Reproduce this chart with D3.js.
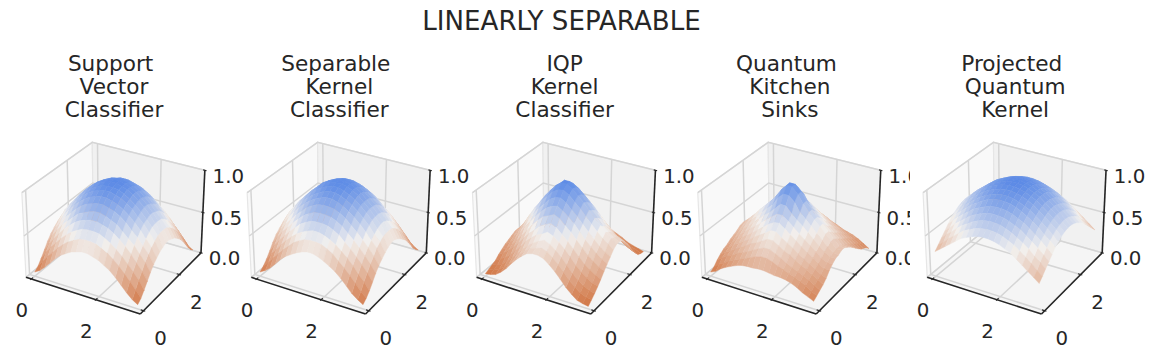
<!DOCTYPE html>
<html>
<head>
<meta charset="utf-8">
<script src="https://d3js.org/d3.v7.min.js"></script>
<style>
    html, body { margin: 0; padding: 0; background: #fff; }
    svg { display: block; }
    text { font-family: "DejaVu Sans", sans-serif; fill: #262626; white-space: pre; }
</style>
</head>
<body>
<script>
var w = 1156,
    h = 358,
    panelStep = 225.3;

var figureTitle = "LINEARLY SEPARABLE";

var panelTitles = [
    ["Support ", "Vector", "Classifier"],
    ["Separable ", "Kernel", "Classifier"],
    ["IQP", "Kernel", "Classifier"],
    ["Quantum ", "Kitchen", "Sinks"],
    ["Projected ", "Quantum", "Kernel"]
];

var xTicks = [0, 2],
    yTicks = [0, 2],
    zTicks = [0, 0.5, 1];

var xLim = [-0.17, 3.31],
    yLim = [-0.17, 3.31],
    zLim = [0, 1];

var samples = [0, 0.17, 0.33, 0.5, 0.66, 0.83, 0.99, 1.16, 1.32, 1.49, 1.65, 1.82, 1.98, 2.15, 2.31, 2.48, 2.65, 2.81, 2.98, 3.14];

// heights in percent. three surfaces are symmetric, so one quarter is stored
var svcQuarter = [
    [5, 9, 15, 22, 29, 35, 39, 43, 45, 47],
    [9, 17, 25, 32, 39, 45, 50, 54, 57, 58],
    [15, 25, 33, 40, 47, 53, 58, 62, 65, 66],
    [22, 32, 40, 48, 55, 61, 66, 70, 72, 74],
    [29, 39, 47, 55, 61, 67, 73, 76, 79, 81],
    [35, 45, 53, 61, 67, 74, 79, 83, 85, 87],
    [39, 50, 58, 66, 73, 79, 84, 88, 90, 92],
    [43, 54, 62, 70, 76, 83, 88, 92, 94, 96],
    [45, 57, 65, 72, 79, 85, 90, 94, 97, 98],
    [47, 58, 66, 74, 81, 87, 92, 96, 98, 100]
];

var separableQuarter = [
    [5, 9, 14, 21, 28, 34, 38, 42, 45, 47],
    [9, 15, 23, 30, 37, 43, 49, 53, 56, 57],
    [14, 23, 30, 38, 45, 51, 56, 60, 63, 65],
    [21, 30, 38, 45, 52, 58, 64, 68, 71, 72],
    [28, 37, 45, 52, 59, 65, 71, 75, 78, 79],
    [34, 43, 51, 58, 65, 71, 77, 81, 84, 85],
    [38, 49, 56, 64, 71, 77, 82, 86, 89, 91],
    [42, 53, 60, 68, 75, 81, 86, 90, 93, 95],
    [45, 56, 63, 71, 78, 84, 89, 93, 96, 98],
    [47, 57, 65, 72, 79, 85, 91, 95, 98, 99]
];

var projectedQuarter = [
    [30, 35, 40, 45, 50, 55, 58, 61, 63, 64],
    [35, 40, 46, 51, 56, 61, 64, 67, 69, 70],
    [40, 46, 51, 57, 62, 66, 70, 73, 75, 76],
    [45, 51, 57, 62, 67, 72, 75, 78, 80, 81],
    [50, 56, 62, 67, 72, 77, 80, 83, 85, 86],
    [55, 61, 66, 72, 77, 81, 85, 88, 90, 91],
    [58, 64, 70, 75, 80, 85, 88, 91, 93, 94],
    [61, 67, 73, 78, 83, 88, 91, 94, 96, 97],
    [63, 69, 75, 80, 85, 90, 93, 96, 98, 99],
    [64, 70, 76, 81, 86, 91, 94, 97, 99, 100]
];

// these two differ from edge to edge, all rows are kept
var iqpKernel = [
    [3, 4, 6, 11, 17, 25, 32, 38, 43, 45, 45, 43, 38, 32, 25, 17, 11, 6, 4, 3],
    [5, 7, 9, 14, 20, 28, 35, 41, 46, 48, 50, 48, 43, 37, 30, 22, 16, 11, 8, 7],
    [7, 9, 12, 18, 24, 31, 38, 44, 49, 53, 56, 53, 48, 42, 35, 27, 21, 16, 13, 11],
    [9, 13, 17, 22, 29, 36, 44, 50, 55, 58, 62, 59, 54, 48, 41, 33, 27, 22, 18, 16],
    [13, 17, 22, 28, 35, 43, 50, 56, 62, 66, 69, 66, 60, 54, 47, 40, 33, 28, 24, 21],
    [16, 20, 26, 33, 41, 49, 57, 64, 70, 73, 76, 73, 67, 61, 54, 47, 40, 35, 30, 27],
    [19, 24, 30, 39, 48, 56, 64, 71, 77, 81, 83, 79, 74, 68, 61, 53, 47, 41, 36, 32],
    [21, 27, 34, 44, 53, 62, 70, 77, 84, 88, 89, 85, 79, 73, 66, 59, 52, 46, 41, 37],
    [23, 30, 38, 48, 58, 67, 76, 83, 90, 94, 95, 91, 85, 79, 72, 65, 58, 52, 47, 42],
    [25, 32, 40, 51, 61, 70, 79, 87, 94, 99, 99, 95, 89, 83, 76, 69, 62, 56, 50, 45],
    [25, 30, 37, 47, 58, 67, 77, 86, 93, 99, 99, 94, 88, 81, 73, 66, 58, 53, 48, 45],
    [23, 28, 34, 44, 54, 64, 73, 82, 88, 93, 94, 90, 84, 77, 70, 62, 55, 49, 46, 43],
    [21, 25, 31, 40, 50, 59, 68, 76, 82, 87, 87, 83, 77, 71, 64, 56, 50, 44, 41, 38],
    [19, 22, 27, 35, 44, 52, 60, 68, 74, 78, 79, 76, 70, 64, 57, 50, 44, 38, 35, 32],
    [16, 18, 23, 29, 37, 44, 52, 59, 64, 67, 70, 67, 62, 56, 49, 43, 36, 31, 28, 25],
    [13, 15, 19, 24, 31, 37, 44, 50, 55, 58, 61, 58, 53, 48, 41, 35, 29, 24, 20, 17],
    [9, 11, 14, 18, 23, 29, 35, 40, 44, 46, 51, 48, 44, 39, 33, 28, 22, 18, 14, 11],
    [7, 7, 9, 13, 17, 22, 27, 32, 35, 37, 40, 38, 34, 30, 26, 22, 17, 12, 9, 6],
    [5, 5, 6, 9, 12, 17, 21, 26, 29, 30, 32, 30, 27, 24, 20, 17, 13, 9, 7, 4],
    [3, 3, 4, 6, 9, 13, 17, 21, 24, 25, 25, 23, 21, 19, 16, 13, 9, 7, 5, 3]
];

var kitchenSinks = [
    [5, 8, 13, 17, 20, 23, 25, 26, 26, 27, 27, 26, 25, 25, 24, 22, 19, 15, 12, 9],
    [8, 13, 17, 21, 24, 27, 30, 33, 36, 38, 38, 36, 33, 31, 28, 26, 23, 20, 15, 12],
    [13, 18, 22, 25, 29, 32, 35, 39, 42, 45, 45, 42, 39, 35, 32, 29, 26, 23, 19, 15],
    [17, 21, 25, 29, 33, 37, 41, 44, 48, 52, 52, 48, 44, 41, 37, 33, 30, 26, 22, 18],
    [20, 24, 29, 33, 37, 41, 46, 50, 54, 59, 59, 54, 50, 46, 41, 37, 33, 29, 25, 22],
    [22, 27, 32, 37, 41, 46, 51, 56, 61, 65, 66, 61, 56, 51, 46, 41, 37, 32, 28, 28],
    [25, 30, 35, 41, 46, 51, 56, 62, 67, 72, 72, 67, 62, 56, 51, 46, 41, 35, 32, 32],
    [27, 33, 39, 44, 50, 56, 62, 67, 73, 80, 80, 73, 67, 62, 56, 50, 44, 39, 35, 35],
    [29, 36, 42, 48, 54, 61, 67, 73, 83, 89, 89, 83, 73, 67, 61, 54, 48, 42, 37, 36],
    [32, 38, 45, 52, 59, 65, 72, 80, 89, 96, 96, 89, 80, 72, 65, 59, 52, 45, 38, 38],
    [33, 39, 45, 52, 59, 66, 72, 80, 89, 96, 96, 89, 80, 72, 65, 59, 52, 45, 38, 38],
    [30, 36, 42, 48, 54, 61, 67, 73, 83, 89, 89, 83, 73, 67, 61, 54, 48, 42, 36, 35],
    [27, 33, 39, 44, 50, 56, 62, 67, 73, 80, 80, 73, 67, 62, 56, 50, 44, 39, 33, 32],
    [24, 30, 35, 41, 46, 51, 56, 62, 67, 72, 72, 67, 62, 56, 51, 46, 41, 35, 30, 28],
    [21, 27, 32, 37, 41, 46, 51, 56, 61, 65, 65, 61, 56, 51, 46, 41, 37, 32, 27, 24],
    [19, 24, 29, 33, 37, 41, 46, 50, 54, 59, 59, 54, 50, 46, 41, 37, 33, 29, 24, 20],
    [16, 21, 25, 29, 33, 37, 41, 44, 48, 52, 52, 48, 44, 41, 37, 33, 29, 25, 21, 16],
    [13, 18, 22, 25, 29, 32, 35, 39, 42, 45, 45, 42, 39, 35, 32, 29, 25, 22, 18, 14],
    [9, 15, 19, 22, 24, 27, 30, 33, 36, 38, 38, 36, 33, 30, 27, 24, 22, 19, 15, 11],
    [6, 11, 15, 18, 20, 22, 25, 27, 29, 32, 32, 29, 27, 25, 22, 20, 18, 15, 11, 7]
];

function mirrorQuarter(rows) {
    var top = rows.map(function (r) {
        return r.concat(r.slice().reverse());
    });
    return top.concat(top.slice().reverse());
}

var surfaces = [
    mirrorQuarter(svcQuarter),
    mirrorQuarter(separableQuarter),
    iqpKernel,
    kitchenSinks,
    mirrorQuarter(projectedQuarter)
];

var colorScale = d3.scaleLinear()
    .domain([0, 0.57, 1])
    .range(["#d0703c", "#f2f0ee", "#5b8ae6"]);

// same camera as a default 3d axes: elev 30, azim -60, box 4:4:3
var box = [1.19, 1.19, 0.893],
    dist = 10,
    elev = 30 * Math.PI / 180,
    azim = -60 * Math.PI / 180;

var xUnit = d3.scaleLinear().domain(xLim).range([0, box[0]]),
    yUnit = d3.scaleLinear().domain(yLim).range([0, box[1]]),
    zUnit = d3.scaleLinear().domain(zLim).range([0, box[2]]);

var n = [Math.cos(elev) * Math.cos(azim), Math.cos(elev) * Math.sin(azim), Math.sin(elev)],
    u = [-n[1] / Math.hypot(n[0], n[1]), n[0] / Math.hypot(n[0], n[1]), 0],
    v = [n[1] * u[2] - n[2] * u[1], n[2] * u[0] - n[0] * u[2], n[0] * u[1] - n[1] * u[0]];

function dot(a, b) {
    return a[0] * b[0] + a[1] * b[1] + a[2] * b[2];
}

function camera(x, y, z) {
    var p = [
        xUnit(x) - box[0] / 2 - dist * n[0],
        yUnit(y) - box[1] / 2 - dist * n[1],
        zUnit(z) - box[2] / 2 - dist * n[2]
    ];
    var depth = dot(p, n);
    return { x: dot(p, u) / -depth, y: dot(p, v) / -depth, depth: depth };
}

// pin the projection to the corners of the first panel
var xPixel = d3.scaleLinear()
    .domain([camera(xLim[0], yLim[0], 0).x, camera(xLim[1], yLim[1], 0).x])
    .range([26, 201]);

var yPixel = d3.scaleLinear()
    .domain([camera(xLim[1], yLim[0], 0).y, camera(xLim[0], yLim[1], 1).y])
    .range([314, 142.3]);

function project(x, y, z) {
    var c = camera(x, y, z);
    return [xPixel(c.x), yPixel(c.y)];
}

var lineFn = d3.line();

var svg = d3.select("body").append("svg").attr("width", w).attr("height", h);

svg.append("text")
    .attr("x", 561.5)
    .attr("y", 30)
    .attr("text-anchor", "middle")
    .style("font-size", "26.1px")
    .text(figureTitle);

function buildPanel(k) {
    if (k === 4) {
        // the last axes background sits on top of its neighbour's tick labels
        svg.append("rect")
            .attr("x", 910)
            .attr("y", 125)
            .attr("width", 246)
            .attr("height", 233)
            .attr("fill", "#fff");
    }

    var g = svg.append("g").attr("transform", "translate(" + (k * panelStep) + ",0)");
    var x0 = xLim[0], x1 = xLim[1], y0 = yLim[0], y1 = yLim[1];

    panelTitles[k].forEach(function (line, i) {
        g.append("text")
            .attr("x", 114)
            .attr("y", 71 + i * 23)
            .attr("text-anchor", "middle")
            .style("font-size", "21.6px")
            .text(line);
    });

    var panes = [
        { fill: "#f9f9f9", pts: [project(x0, y0, 0), project(x0, y1, 0), project(x0, y1, 1), project(x0, y0, 1)] },
        { fill: "#f1f1f1", pts: [project(x0, y1, 0), project(x1, y1, 0), project(x1, y1, 1), project(x0, y1, 1)] },
        { fill: "#f5f5f5", pts: [project(x0, y0, 0), project(x1, y0, 0), project(x1, y1, 0), project(x0, y1, 0)] }
    ];
    panes.forEach(function (p) {
        g.append("path")
            .attr("d", lineFn(p.pts) + "Z")
            .attr("fill", p.fill)
            .attr("stroke", "#e6e6e6")
            .attr("stroke-width", 1.2);
    });

    function gridLine(pts) {
        g.append("path")
            .attr("d", lineFn(pts))
            .attr("fill", "none")
            .attr("stroke", "#d5d5d5")
            .attr("stroke-width", 1.5);
    }
    xTicks.forEach(function (t) {
        gridLine([project(t, y0, 0), project(t, y1, 0), project(t, y1, 1)]);
    });
    yTicks.forEach(function (t) {
        gridLine([project(x1, t, 0), project(x0, t, 0), project(x0, t, 1)]);
    });
    zTicks.forEach(function (t) {
        gridLine([project(x0, y0, t), project(x0, y1, t), project(x1, y1, t)]);
    });

    function axisLine(pts, width) {
        g.append("path")
            .attr("d", lineFn(pts))
            .attr("fill", "none")
            .attr("stroke", "#262626")
            .attr("stroke-width", width);
    }
    function tickLabel(p, dx, dy, label) {
        g.append("text")
            .attr("x", p[0] + dx)
            .attr("y", p[1] + dy)
            .attr("text-anchor", "middle")
            .style("font-size", "19.8px")
            .text(label);
    }

    axisLine([project(x0, y0, 0), project(x1, y0, 0)], 1.6);
    axisLine([project(x1, y0, 0), project(x1, y1, 0)], 1.6);
    axisLine([project(x1, y1, 0), project(x1, y1, 1)], 1.6);

    xTicks.forEach(function (t) {
        axisLine([project(t, y0 - 0.05, 0), project(t, y0 + 0.08, 0)], 1.1);
        tickLabel(project(t, y0, 0), -9.5, 38, t);
    });
    yTicks.forEach(function (t) {
        axisLine([project(x1 + 0.05, t, 0), project(x1 - 0.08, t, 0)], 1.1);
        tickLabel(project(x1, t, 0), 17, 34, t);
    });
    zTicks.forEach(function (t) {
        axisLine([project(x1 + 0.05, y1, t), project(x1 - 0.05, y1, t)], 1.1);
        tickLabel(project(x1, y1, t), 23.5, 12.5, d3.format(".1f")(t));
    });

    var grid = surfaces[k];
    var facets = [];
    for (var j = 0; j < samples.length - 1; j++) {
        for (var i = 0; i < samples.length - 1; i++) {
            var corners = [[i, j], [i + 1, j], [i + 1, j + 1], [i, j + 1]];
            var mean = d3.mean(corners, function (c) { return grid[c[1]][c[0]] / 100; });
            var depth = d3.mean(corners, function (c) {
                return camera(samples[c[0]], samples[c[1]], grid[c[1]][c[0]] / 100).depth;
            });
            facets.push({
                pts: corners.map(function (c) {
                    return project(samples[c[0]], samples[c[1]], grid[c[1]][c[0]] / 100);
                }),
                mean: mean,
                depth: depth
            });
        }
    }
    facets.sort(function (a, b) { return d3.ascending(a.depth, b.depth); });

    g.append("g").selectAll("path")
        .data(facets)
        .enter()
        .append("path")
        .attr("d", function (d) { return lineFn(d.pts) + "Z"; })
        .attr("fill", function (d) { return colorScale(d.mean); })
        .attr("stroke", function (d) { return colorScale(d.mean); })
        .attr("stroke-width", 0.4);
}

panelTitles.forEach(function (t, k) {
    buildPanel(k);
});
</script>
</body>
</html>
